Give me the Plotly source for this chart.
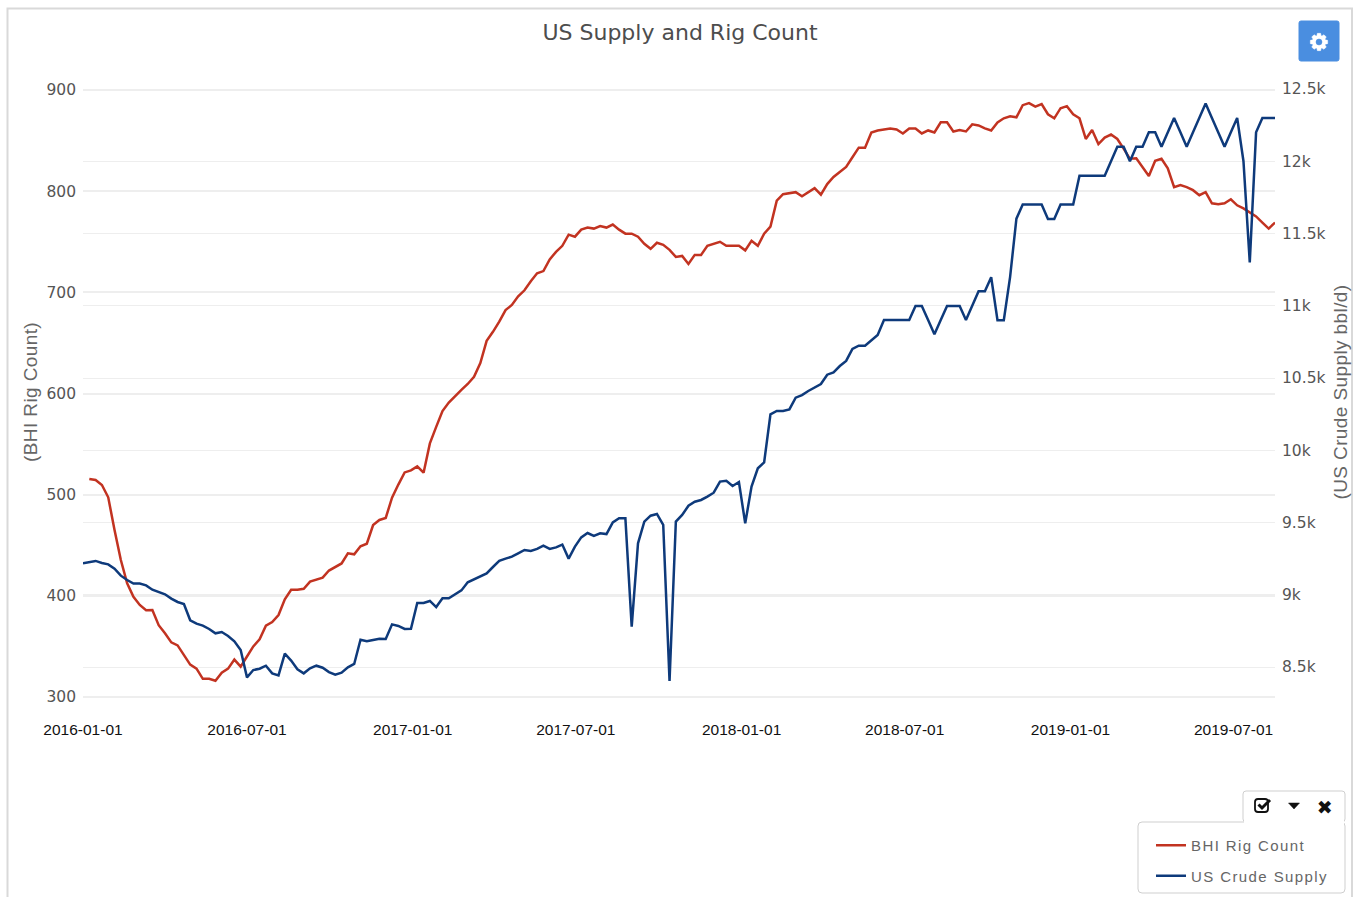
import math
import pandas as pd
import plotly.graph_objects as go

# ---- data ----
week_start = "2016-01-01"
week_count = 190

rig_count = [None, 515.5, 514.5, 509.6, 497.4, 465, 435.4, 412.4, 399, 391,
    385.7, 386, 371, 363, 354, 351, 342, 332, 328, 318,
    318, 316, 324, 328, 337, 330, 340, 350, 357, 370.5,
    374, 381, 396.5, 406, 406, 407, 414, 416, 418, 425,
    428.5, 432, 442, 441, 449, 451.5, 470, 475, 477, 497,
    510, 522, 524, 528, 521.7, 550.7, 567, 582.7, 591, 597.5,
    603.5, 609.4, 616.6, 630, 652, 661, 671, 682.5, 687.5, 696,
    702, 711, 718.8, 721, 732.6, 740, 746, 757, 755, 762,
    764, 763, 765.5, 764, 767, 762, 758, 758, 755, 748,
    743, 749, 747, 742, 735, 736, 728, 737, 737, 746,
    748, 750, 746, 746, 746, 741.5, 751, 746, 758, 765,
    790.6, 797, 798, 799, 795, 799, 803, 796.5, 807, 814,
    819, 824, 833.5, 843, 843, 858, 860, 861, 862, 861,
    857, 862, 862, 857, 860, 858, 868, 868, 859, 860.5,
    859, 866, 865, 862, 860, 868, 872, 874, 873, 885,
    887, 883.5, 886, 876, 872, 882, 884, 876, 872, 851.6,
    860.5, 846.6, 853, 856, 851.6, 842, 832, 832.5, 823.5, 815,
    830, 832, 822.6, 804, 806, 804, 801, 796, 799, 788,
    787, 788, 792, 786, 783, 779, 775, 769, 763, 769]

crude_supply = [9217, 9227, 9234, 9220, 9210, 9180, 9132, 9102, 9077, 9077,
    9065, 9035, 9019, 9003, 8973, 8950, 8936, 8823, 8800, 8786,
    8763, 8733, 8742, 8715, 8678, 8618, 8428, 8479, 8488, 8509,
    8456, 8442, 8592, 8544, 8484, 8456, 8491, 8509, 8495, 8465,
    8447, 8461, 8498, 8521, 8689, 8678, 8687, 8696, 8694, 8795,
    8784, 8763, 8765, 8943, 8943, 8957, 8915, 8975, 8975, 9003,
    9030, 9086, 9107, 9127, 9148, 9192, 9234, 9250, 9264, 9287,
    9310, 9303, 9317, 9340, 9317, 9328, 9347, 9250, 9333, 9397,
    9427, 9407, 9425, 9420, 9501, 9529, 9529, 8779, 9356, 9506,
    9547, 9559, 9483, 8403, 9506, 9552, 9616, 9644, 9656, 9679,
    9706, 9783, 9789, 9753, 9780, 9494, 9748, 9875, 9916, 10249,
    10272, 10272, 10283, 10364, 10382, 10410, 10435, 10458, 10523, 10539,
    10583, 10618, 10701, 10724, 10724, 10763, 10798, 10901, 10901, 10901,
    10901, 10901, 10998, 10998, 10901, 10802, 10901, 10998, 10998, 10998,
    10901, 11000, 11100, 11100, 11197, 10900, 10900, 11200, 11603, 11700,
    11700, 11700, 11700, 11600, 11600, 11700, 11700, 11700, 11900, 11900,
    11900, 11900, 11900, 12000, 12100, 12100, 12000, 12100, 12100, 12200,
    12200, 12100, 12200, 12300, 12200, 12100, 12200, 12300, 12400, 12300,
    12200, 12100, 12200, 12300, 12000, 11300, 12200, 12300, 12300, 12300]

date_ticks = ["2016-01-01", "2016-07-01", "2017-01-01", "2017-07-01",
              "2018-01-01", "2018-07-01", "2019-01-01", "2019-07-01"]
rig_ticks = [300, 400, 500, 600, 700, 800, 900]
supply_ticks = [8500, 9000, 9500, 10000, 10500, 11000, 11500, 12000, 12500]
supply_labels = ["8.5k", "9k", "9.5k", "10k", "10.5k", "11k", "11.5k", "12k", "12.5k"]

dates = pd.date_range(week_start, periods=week_count, freq="7D")

# ---- layout geometry (pixels) ----
W, H = 1353, 897
L, R, T, B = 83, 1275, 85, 705
RED, BLUE = "#c23321", "#0e3a7b"
GRID = "#eeeeee"
px = lambda v: (v - L) / (R - L)
py = lambda v: (B - v) / (B - T)


def rounded(x0, y0, x1, y1, r):
    a, b, c, d = px(x0), px(x1), py(y0), py(y1)
    rx, ry = r / (R - L), r / (B - T)
    return (f"M {a+rx},{c} L {b-rx},{c} Q {b},{c} {b},{c-ry} L {b},{d+ry} Q {b},{d} {b-rx},{d} "
            f"L {a+rx},{d} Q {a},{d} {a},{d+ry} L {a},{c-ry} Q {a},{c} {a+rx},{c} Z")


def poly(points, close=True):
    body = " L ".join(f"{px(x)},{py(y)}" for x, y in points)
    return "M " + body + (" Z" if close else "")


def paper_shape(path, fill="rgba(0,0,0,0)", line="#cfcfcf", width=1):
    return dict(type="path", xref="paper", yref="paper", path=path, fillcolor=fill,
                line=dict(color=line, width=width), layer="above")


def gear_outline(cx, cy, outer, inner, teeth):
    pts = []
    for k in range(teeth):
        a = 2 * math.pi * k / teeth
        step = 2 * math.pi / teeth
        for da, r in ((-0.30, inner), (-0.17, outer), (0.17, outer), (0.30, inner)):
            t = a + da * step * 1.4
            pts.append((cx + r * math.cos(t), cy + r * math.sin(t)))
    return pts


fig = go.Figure()
fig.add_trace(go.Scatter(x=dates, y=rig_count, name="BHI Rig Count", mode="lines", yaxis="y",
                         legendgroup="rig", connectgaps=False,
                         line=dict(color=RED, width=2.5)))
fig.add_trace(go.Scatter(x=dates, y=crude_supply, name="US Crude Supply", mode="lines", yaxis="y2",
                         legendgroup="supply",
                         line=dict(color=BLUE, width=2.5)))

INK = "#111111"
shapes = [
    dict(type="rect", xref="paper", yref="paper", x0=px(7.5), x1=px(1352), y0=py(8.5), y1=py(905),
         line=dict(color="#d9d9d9", width=2), fillcolor="rgba(0,0,0,0)", layer="below"),
    paper_shape(rounded(1138, 822, 1345, 893, 4)),
    paper_shape(rounded(1243, 791, 1345, 822, 3)),
    dict(type="rect", xref="paper", yref="paper", x0=px(1244), x1=px(1344), y0=py(819), y1=py(824),
         line=dict(width=0), fillcolor="white", layer="above"),
    # settings button
    paper_shape(rounded(1299, 21, 1339, 61, 2), fill="#4a8ee0", line="#4a8ee0"),
    paper_shape(poly(gear_outline(1319, 42, 8.8, 6.6, 8)), fill="white", line="white", width=0.5),
    paper_shape(rounded(1316, 39, 1322, 45, 3), fill="#4a8ee0", line="#4a8ee0", width=0.5),
    # toolbar icons
    paper_shape(rounded(1255, 799, 1268, 812, 3), line=INK, width=1.8),
    paper_shape(poly([(1258.5, 804.5), (1262, 808), (1270, 800)], close=False), line=INK, width=3),
    paper_shape(poly([(1288.5, 803), (1299.5, 803), (1294, 809)]), fill=INK, line=INK, width=0.5),
]


def glyph(x, y, text, size, color):
    return dict(xref="paper", yref="paper", x=px(x), y=py(y), text=text, showarrow=False,
                xanchor="center", yanchor="middle",
                font=dict(family="DejaVu Sans", size=size, color=color))


def side_title(x, y, text):
    return dict(xref="paper", yref="paper", x=px(x), y=py(y), text=text, showarrow=False,
                textangle=-90, xanchor="center", yanchor="middle",
                font=dict(family="Liberation Sans", size=19, color="#666666"))


annotations = [
    glyph(1325, 807, "\u2716", 19, INK),
    side_title(30, 392, "(BHI Rig Count)"),
    side_title(1340, 392, "(US Crude Supply bbl/d)"),
]

fig.update_layout(
    width=W, height=H, autosize=False,
    margin=dict(l=L, r=W - R, t=T, b=H - B, pad=0, autoexpand=False),
    paper_bgcolor="white", plot_bgcolor="white",
    title=dict(text="US Supply and Rig Count", x=680 / W, xanchor="center", y=1 - 32.3 / H, yanchor="middle",
               font=dict(family="DejaVu Sans", size=22, color="#4d4d4d")),
    showlegend=True,
    legend=dict(xref="container", yref="container", x=1151 / W, y=1 - 829 / H,
                xanchor="left", yanchor="top", bgcolor="rgba(0,0,0,0)",
                traceorder="grouped", tracegroupgap=8, itemwidth=30,
                font=dict(family="Liberation Sans", size=15, color="#666666")),
    xaxis=dict(type="date", range=[dates[0], dates[-1]], tickvals=date_ticks, tickformat="%Y-%m-%d",
               showgrid=False, zeroline=False, showline=False, ticks="", ticklabelstandoff=13,
               tickfont=dict(family="Liberation Sans", size=15.5, color="#111111")),
    yaxis=dict(range=[292.09, 904.94], tickvals=rig_ticks, showgrid=True, gridcolor=GRID, gridwidth=1.5,
               zeroline=False, showline=False, ticks="", ticklabelstandoff=6,
               tickfont=dict(family="DejaVu Sans", size=15.5, color="#555555")),
    yaxis2=dict(range=[8237, 12527.7], overlaying="y", side="right", tickvals=supply_ticks,
                ticktext=supply_labels, showgrid=True, gridcolor=GRID, gridwidth=1,
                zeroline=False, showline=False, ticks="", ticklabelstandoff=6,
                tickfont=dict(family="DejaVu Sans", size=15.5, color="#555555")),
    shapes=shapes, annotations=annotations,
)

page_style = ("document.body.style.margin='0';document.body.style.overflow='hidden';"
              "var s=document.createElement('style');"
              "s.textContent='.legendtext{letter-spacing:1.4px}.annotation-text{letter-spacing:0.4px}"
              ".legend .scrollbox{clip-path:none !important}';"
              "document.head.appendChild(s);")
fig.write_html("out.html", config=dict(displayModeBar=False), post_script=page_style)
